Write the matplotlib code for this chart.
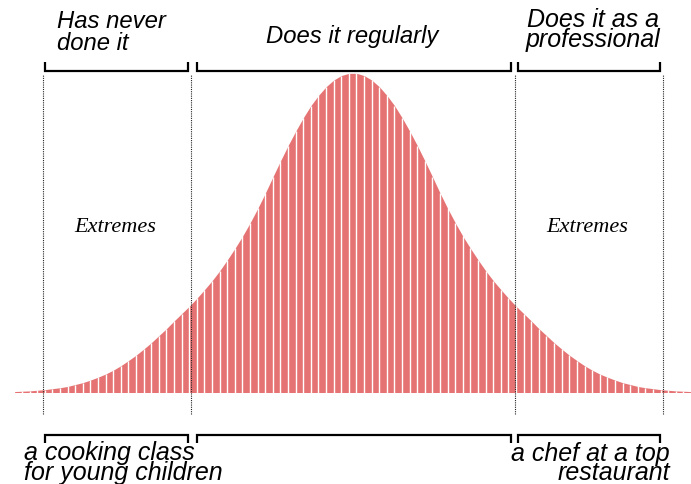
import numpy as np
import matplotlib
matplotlib.use("Agg")
import matplotlib.pyplot as plt
import matplotlib.transforms as mtransforms

# ---------------- data ----------------
# curve height (percent of peak) at each stripe edge, left to right
curve_pct = [
    0.3, 0.4, 0.5, 0.7, 0.9, 1.2, 1.5, 1.9, 2.5, 3.1,
    3.9, 4.8, 5.8, 7.0, 8.4, 10.0, 11.7, 13.6, 15.6, 17.8,
    20.0, 22.4, 24.7, 27.0, 29.5, 32.2, 35.0, 38.1, 41.5, 45.1,
    48.9, 53.1, 57.6, 62.4, 67.5, 72.5, 77.3, 81.8, 86.0, 89.8,
    93.0, 95.7, 97.8, 99.2, 99.9,
    99.9, 99.2, 97.8, 95.7, 93.0, 89.8, 86.0, 81.8, 77.3, 72.5,
    67.5, 62.4, 57.6, 53.1, 48.9, 45.1, 41.5, 38.1, 35.0, 32.2,
    29.5, 27.0, 24.7, 22.4, 20.0, 17.8, 15.6, 13.6, 11.7, 10.0,
    8.4, 7.0, 5.8, 4.8, 3.9, 3.1, 2.5, 1.9, 1.5, 1.2,
    0.9, 0.7, 0.5, 0.4, 0.3,
]
stripe_width = 0.076          # skill units between stripes
boundaries = [-3.10, -1.62, 1.62, 3.10]   # group limits (skill units)
group_labels = ["Has never\ndone it", "Does it regularly", "Does it as a\nprofessional"]
example_labels = ["a cooking class\nfor young children", "a chef at a top\nrestaurant"]
side_label = "Extremes"

# ---------------- figure ----------------
W, H = 691, 485
fig = plt.figure(figsize=(W / 100, H / 100), dpi=100)
ax = fig.add_axes([0, 0, 1, 1])
cx, base, peak = 352.7, 393.5, 319.5   # pixel layout of the axes
ax.set_xlim((0 - cx) / 100, (W - cx) / 100)
ax.set_ylim((base - H) / peak * 100, base / peak * 100)
ax.axis("off")

n = len(curve_pct)
edges = (np.arange(n) - (n - 1) / 2) * stripe_width
ax.fill_between(edges, 0, curve_pct, color="#e57373", lw=0, zorder=1)
ax.vlines(edges, 0, curve_pct, color="white", lw=1.0, zorder=2)

def ypx(p):
    return (base - p) / peak * 100

# dotted boundaries
ax.vlines(boundaries, ypx(415), ypx(75), colors="#222222",
          linestyles=(0, (1, 1)), lw=0.8, zorder=3)

# brackets
spans = [(boundaries[0] + 0.028, boundaries[1] - 0.027),
         (boundaries[1] + 0.063, boundaries[2] - 0.037),
         (boundaries[2] + 0.033, boundaries[3] - 0.027)]
for x0, x1 in spans:
    ax.plot([x0, x0, x1, x1], [ypx(63), ypx(72), ypx(72), ypx(63)],
            color="black", lw=1.6, solid_joinstyle="miter", solid_capstyle="butt", zorder=4)
    ax.plot([x0, x0, x1, x1], [ypx(444), ypx(436), ypx(436), ypx(444)],
            color="black", lw=1.6, solid_joinstyle="miter", solid_capstyle="butt", zorder=4)

# texts in pixel coordinates (origin top-left)
tr = mtransforms.Affine2D().scale(1 / W, -1 / H).translate(0, 1) + fig.transFigure
top_font = dict(family="Liberation Sans", style="italic", fontsize=17.2, color="black")
pro_font = dict(family="Liberation Sans", style="italic", fontsize=18, color="black")
bot_font = dict(family="Liberation Sans", style="italic", fontsize=18, color="black")
serif = dict(family="Liberation Serif", style="italic", fontsize=16, color="black")

fig.text(57, 9.9, group_labels[0], transform=tr, ha="left", va="top",
         ma="left", linespacing=0.94, **top_font)
fig.text(352.5, 43, group_labels[1], transform=tr, ha="center", va="baseline", **top_font)
fig.text(593, 8.4, group_labels[2], transform=tr, ha="center", va="top",
         ma="center", linespacing=0.76, **pro_font)

fig.text(24, 440.6, example_labels[0], transform=tr, ha="left", va="top",
         ma="left", linespacing=0.83, **bot_font)
fig.text(670, 441.6, example_labels[1], transform=tr, ha="right", va="top",
         ma="right", linespacing=0.77, **bot_font)

fig.text(115, 232, side_label, transform=tr, ha="center", va="baseline", **serif)
fig.text(587, 232, side_label, transform=tr, ha="center", va="baseline", **serif)

fig.savefig("out.png", dpi=100)
